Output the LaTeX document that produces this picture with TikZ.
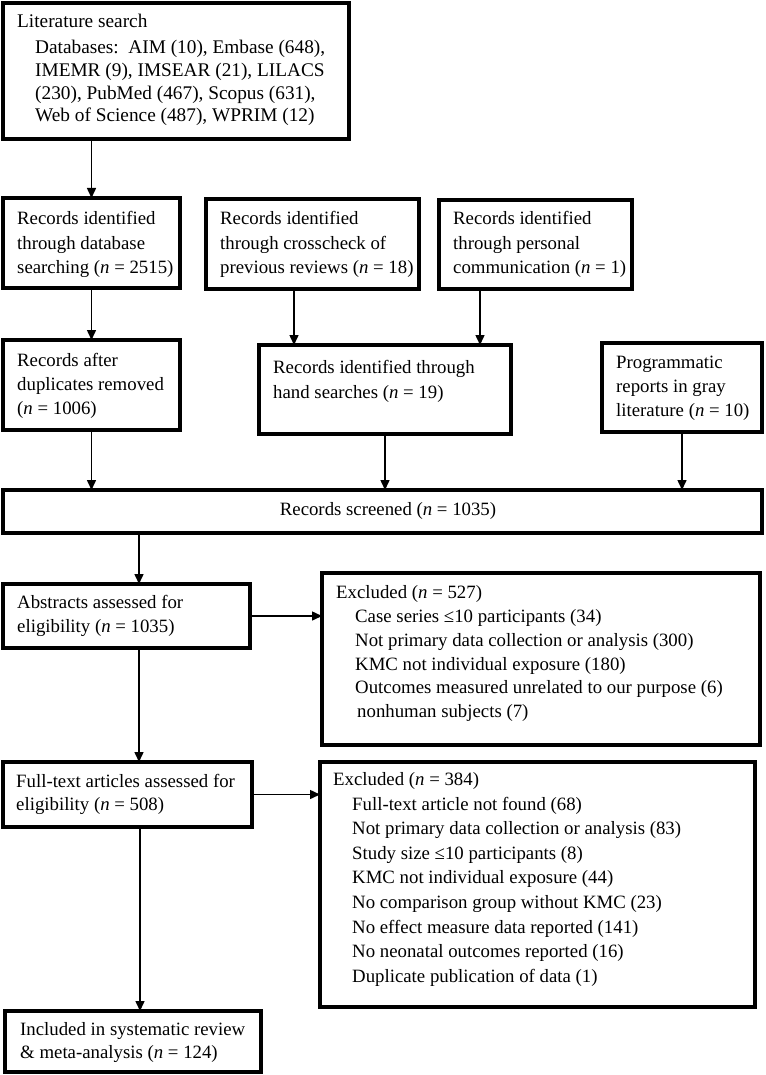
\documentclass[tikz,border=0pt]{standalone}
\usepackage{fontspec}
\setmainfont{Liberation Serif}
\usetikzlibrary{arrows.meta,calc}
\begin{document}
\begin{tikzpicture}[x=1pt,y=-1pt,
  box/.style={draw, line width=4pt, rectangle, inner sep=0pt, outer sep=0pt, anchor=north west},
  arr/.style={line width=1.5pt, -{Triangle[length=10pt,width=9pt]}},
  txt/.style={inner sep=0pt, anchor=base west, font=\fontsize{18.8}{24}\selectfont},
  txtA/.style={txt, font=\fontsize{19.3}{23}\selectfont}]
\useasboundingbox (0,0) rectangle (765,1075);
\fill[white] (0,0) rectangle (765,1075);
% boxes
\node[box, minimum width=346pt, minimum height=136pt] (b1) at (3,3) {};
\node[box, minimum width=177pt, minimum height=90pt] (b2) at (3,198) {};
\node[box, minimum width=213pt, minimum height=90pt] (b3) at (206,199) {};
\node[box, minimum width=193pt, minimum height=89pt] (b4) at (439,200) {};
\node[box, minimum width=177pt, minimum height=90pt] (b5) at (3,340) {};
\node[box, minimum width=252pt, minimum height=89pt] (b6) at (259,345) {};
\node[box, minimum width=160pt, minimum height=89pt] (b7) at (602,343) {};
\node[box, minimum width=759pt, minimum height=43pt] (b8) at (3,490) {};
\node[box, minimum width=247pt, minimum height=64pt] (b9) at (3,584) {};
\node[box, minimum width=438pt, minimum height=172pt] (b10) at (322,573) {};
\node[box, minimum width=249pt, minimum height=65pt] (b11) at (3,762) {};
\node[box, minimum width=435pt, minimum height=245pt] (b12) at (320,762) {};
\node[box, minimum width=256pt, minimum height=61pt] (b13) at (5,1011) {};
% texts box 1
\node[txtA] (t1a) at (17,28) {Literature search};
\node[txtA] (t1b) at (35,54) {Databases:\enspace AIM (10), Embase (648),};
\node[txtA] (t1c) at (35,77) {IMEMR (9), IMSEAR (21), LILACS};
\node[txtA] (t1d) at (35,100) {(230), PubMed (467), Scopus (631),};
\node[txtA] (t1e) at (35,122) {Web of Science (487), WPRIM (12)};
% box 2
\node[txt] (t2a) at (17,225) {Records identified};
\node[txt] (t2b) at (17,249) {through database};
\node[txt] (t2c) at (17,273) {searching (\textit{n} = 2515)};
% box 3
\node[txt] (t3a) at (220,225) {Records identified};
\node[txt] (t3b) at (220,249) {through crosscheck of};
\node[txt] (t3c) at (220,273) {previous reviews (\textit{n} = 18)};
% box 4
\node[txt] (t4a) at (453,225) {Records identified};
\node[txt] (t4b) at (453,249) {through personal};
\node[txt] (t4c) at (453,273) {communication (\textit{n} = 1)};
% box 5
\node[txt] (t5a) at (17,366) {Records after};
\node[txt] (t5b) at (17,390) {duplicates removed};
\node[txt] (t5c) at (17,414) {(\textit{n} = 1006)};
% box 6
\node[txt] (t6a) at (273,373) {Records identified through};
\node[txt] (t6b) at (273,398) {hand searches (\textit{n} = 19)};
% box 7
\node[txt] (t7a) at (616,368) {Programmatic};
\node[txt] (t7b) at (616,392) {reports in gray};
\node[txt] (t7c) at (616,416) {literature (\textit{n} = 10)};
% box 8
\node[txt, anchor=base] (t8) at (388,515) {Records screened (\textit{n} = 1035)};
% box 9
\node[txt] (t9a) at (17,608) {Abstracts assessed for};
\node[txt] (t9b) at (17,632) {eligibility (\textit{n} = 1035)};
% box 10
\node[txt] (t10a) at (336,598) {Excluded (\textit{n} = 527)};
\node[txt] (t10b) at (355,622) {Case series ≤10 participants (34)};
\node[txt] (t10c) at (355,646) {Not primary data collection or analysis (300)};
\node[txt] (t10d) at (355,670) {KMC not individual exposure (180)};
\node[txt] (t10e) at (355,693) {Outcomes measured unrelated to our purpose (6)};
\node[txt] (t10f) at (357,717) {nonhuman subjects (7)};
% box 11
\node[txt] (t11a) at (16,787) {Full-text articles assessed for};
\node[txt] (t11b) at (16,810) {eligibility (\textit{n} = 508)};
% box 12
\node[txt] (t12a) at (333,785) {Excluded (\textit{n} = 384)};
\node[txt] (t12b) at (352,810) {Full-text article not found (68)};
\node[txt] (t12c) at (352,834) {Not primary data collection or analysis (83)};
\node[txt] (t12d) at (352,859) {Study size ≤10 participants (8)};
\node[txt] (t12e) at (352,883) {KMC not individual exposure (44)};
\node[txt] (t12f) at (352,908) {No comparison group without KMC (23)};
\node[txt] (t12g) at (352,933) {No effect measure data reported (141)};
\node[txt] (t12h) at (352,957) {No neonatal outcomes reported (16)};
\node[txt] (t12i) at (352,982) {Duplicate publication of data (1)};
% box 13
\node[txt] (t13a) at (20,1035) {Included in systematic review};
\node[txt] (t13b) at (20,1058) {\& meta-analysis (\textit{n} = 124)};
% arrows
\draw[arr] (b1.south -| b2.north) -- (b2.north);
\draw[arr] (b2.south) -- (b5.north);
\draw[arr] ([xshift=-18.5pt]b3.south) -- ([xshift=-18.5pt]b3.south |- b6.north);
\draw[arr] ([xshift=-55.5pt]b4.south) -- ([xshift=-55.5pt]b4.south |- b6.north);
\draw[arr] (b5.south) -- (b5.south |- b8.north);
\draw[arr] (b6.south) -- (b6.south |- b8.north);
\draw[arr] (b7.south) -- (b7.south |- b8.north);
\draw[arr] ([xshift=12.5pt]b9.north |- b8.south) -- ([xshift=12.5pt]b9.north);
\draw[arr] (b9.east) -- (b9.east -| b10.west);
\draw[arr] ([xshift=12.5pt]b9.south) -- ([xshift=12.5pt]b9.south |- b11.north);
\draw[arr] (b11.east) -- (b11.east -| b12.west);
\draw[arr] ([xshift=12.5pt]b11.south) -- ([xshift=12.5pt]b11.south |- b13.north);
\end{tikzpicture}
\end{document}
